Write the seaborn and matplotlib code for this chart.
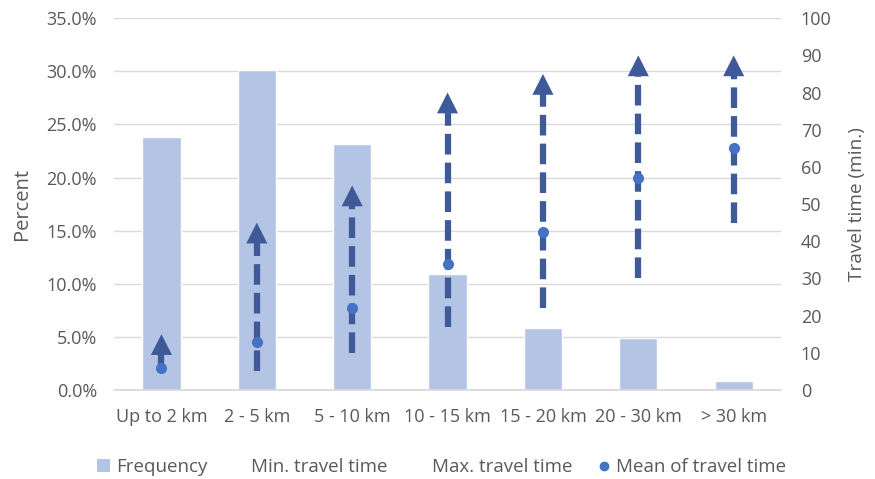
import matplotlib
matplotlib.use("Agg")
import matplotlib.pyplot as plt
from matplotlib.lines import Line2D
from matplotlib.patches import Patch
from matplotlib.ticker import PercentFormatter
import seaborn as sns
import pandas as pd

# ---- data ----
distance = ["Up to 2 km", "2 - 5 km", "5 - 10 km", "10 - 15 km", "15 - 20 km", "20 - 30 km", "> 30 km"]
frequency = [23.8, 30.1, 23.2, 10.9, 5.8, 4.9, 0.8]      # percent
min_time = [5, 5, 10, 17, 22, 30, 45]                    # minutes
max_time = [15, 45, 55, 80, 85, 90, 90]
mean_time = [6, 13, 22, 34, 42.5, 57, 65]

BAR = "#B4C4E4"
ARROW = "#3F5A99"
DOT = "#4472C4"
TXT = "#595959"
GRID = "#D9D9D9"

sns.set_theme(style="white")
plt.rcParams["font.family"] = ["Open Sans", "DejaVu Sans"]
plt.rcParams["font.size"] = 13

df = pd.DataFrame({"distance": distance, "frequency": frequency})

fig = plt.figure(figsize=(8.75, 4.79), dpi=100)
ax = fig.add_axes([0.130, 0.186, 0.763, 0.776])

sns.barplot(data=df, x="distance", y="frequency", color=BAR, width=0.4,
            saturation=1, ax=ax, zorder=2)
ax.set_ylim(0, 35)
ax.set_yticks(range(0, 36, 5))
ax.yaxis.set_major_formatter(PercentFormatter(decimals=1))
ax.grid(axis="y", color=GRID, lw=1, zorder=0)
ax.set_axisbelow(True)
for s in ["top", "right", "left"]:
    ax.spines[s].set_visible(False)
ax.spines["bottom"].set_color(GRID)
ax.set_xlabel("")
ax.set_ylabel("Percent", color=TXT, fontsize=14.5)
ax.yaxis.set_label_coords(-0.122, 0.5)
ax.tick_params(axis="y", colors=TXT, labelsize=13, length=0, pad=12)
ax.tick_params(axis="x", colors=TXT, labelsize=13, length=0, pad=13)
ax.set_xlim(-0.5, len(distance) - 0.5)

ax2 = ax.twinx()
ax2.set_ylim(0, 100)
ax2.set_yticks(range(0, 101, 10))
for s in ax2.spines.values():
    s.set_visible(False)
ax2.tick_params(colors=TXT, labelsize=13, length=0, pad=14)
ax2.set_ylabel("Travel time (min.)", color=TXT, fontsize=13.7)
ax2.yaxis.set_label_coords(1.1, 0.5)

head = 5.5  # head length in minutes
for i, (lo, hi) in enumerate(zip(min_time, max_time)):
    ax2.plot([i, i], [lo, hi - head + 0.5], color=ARROW, lw=4.5,
             dashes=(3.3, 1.3), solid_capstyle="butt", zorder=3)
    ax2.annotate("", xy=(i, hi), xytext=(i, hi - head),
                 arrowprops=dict(arrowstyle="-|>,head_length=0.75,head_width=0.38",
                                 mutation_scale=20, lw=0, color=ARROW,
                                 shrinkA=0, shrinkB=0), zorder=4)
ax2.plot(range(len(distance)), mean_time, "o", color=DOT, ms=7, zorder=5)
ax2.set_xlim(-0.5, len(distance) - 0.5)

handles = [
    Patch(facecolor=BAR, edgecolor="none"),
    Line2D([], [], color="none"),
    Line2D([], [], color="none"),
    Line2D([], [], marker="o", color=DOT, ls="none", ms=6),
]
labels = ["Frequency", "Min. travel time", "Max. travel time", "Mean of travel time"]
leg = fig.legend(handles, labels, loc="lower center", ncol=4, frameon=False,
                 bbox_to_anchor=(0.505, -0.03), handlelength=0.7, handletextpad=0.3,
                 columnspacing=1.35, fontsize=13.5)
for t in leg.get_texts():
    t.set_color(TXT)

fig.savefig("out.png", dpi=100)
